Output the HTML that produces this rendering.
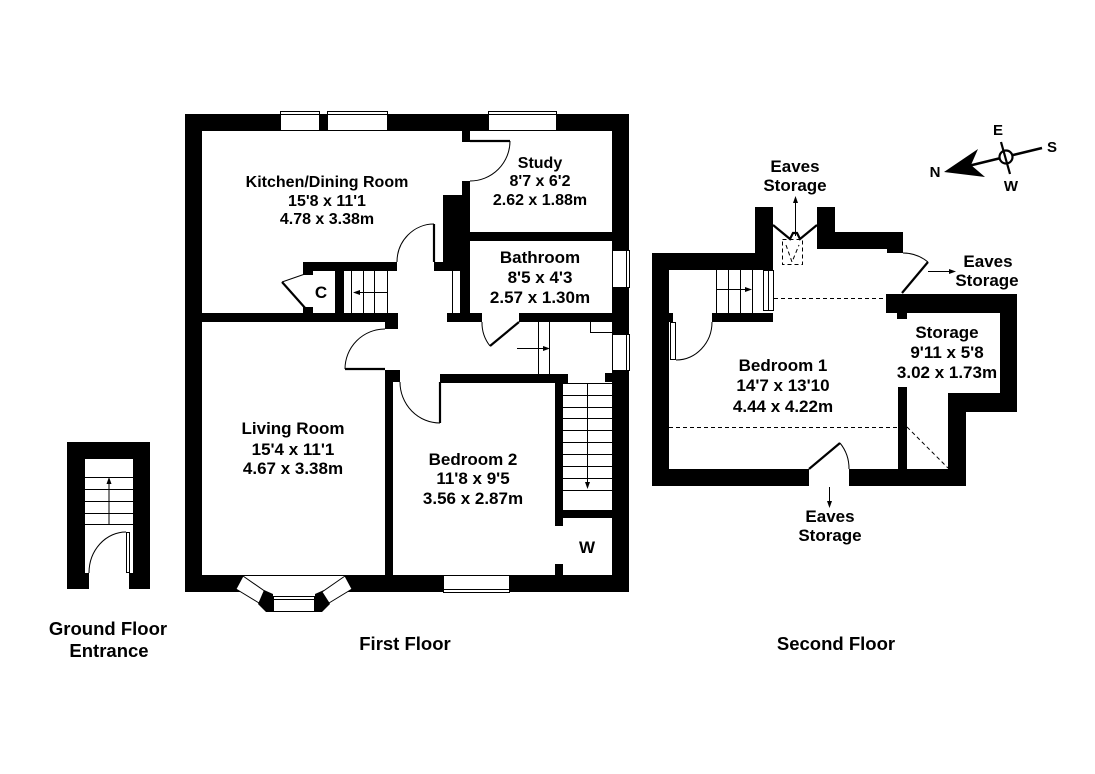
<!DOCTYPE html>
<html>
<head>
<meta charset="utf-8">
<style>
html,body{margin:0;padding:0;background:#fff;}
svg{display:block;}
text{font-family:"Liberation Sans",Arial,sans-serif;font-weight:bold;fill:#000;text-anchor:middle;}
.t16{font-size:16px;}
.t17{font-size:17px;}
.t18{font-size:18.5px;}
.t15{font-size:15px;}
</style>
</head>
<body>
<svg width="1095" height="774" viewBox="0 0 1095 774" xmlns="http://www.w3.org/2000/svg">
<rect x="0" y="0" width="1095" height="774" fill="#fff"/>

<!-- ================= GROUND FLOOR ENTRANCE ================= -->
<g fill="#000">
  <rect x="67" y="442" width="18" height="131"/>
  <rect x="67" y="442" width="83" height="17"/>
  <rect x="133" y="442" width="17" height="147"/>
  <rect x="67" y="573" width="22" height="16"/>
  <rect x="129" y="573" width="21" height="16"/>
</g>
<g stroke="#000" stroke-width="1" fill="none">
  <line x1="85" y1="477.5" x2="133" y2="477.5"/>
  <line x1="85" y1="489.5" x2="133" y2="489.5"/>
  <line x1="85" y1="501.5" x2="133" y2="501.5"/>
  <line x1="85" y1="513.5" x2="133" y2="513.5"/>
  <line x1="85" y1="524.5" x2="133" y2="524.5"/>
  <line x1="109" y1="524" x2="109" y2="482"/>
  <rect x="126.5" y="532.5" width="3" height="40" fill="#fff"/>
  <path d="M89,573 A37,41 0 0 1 126,532"/>
</g>
<polygon points="109,477 106.5,484 111.5,484" fill="#000"/>

<!-- ================= FIRST FLOOR ================= -->
<g fill="#000">
  <!-- outer walls -->
  <rect x="185" y="114" width="444" height="17"/>
  <rect x="185" y="114" width="17" height="478"/>
  <rect x="612" y="114" width="17" height="478"/>
  <rect x="185" y="575" width="58" height="17"/>
  <rect x="345" y="575" width="284" height="17"/>
  <!-- kitchen / living divider -->
  <rect x="185" y="313" width="213" height="9"/>
  <rect x="385" y="313" width="13" height="16"/>
  <!-- closet / stair block -->
  <rect x="303" y="262" width="94" height="9"/>
  <rect x="303" y="262" width="10" height="13"/>
  <rect x="303" y="307" width="10" height="6"/>
  <rect x="335" y="271" width="9" height="42"/>
  <!-- chimney / partitions -->
  <rect x="443" y="195" width="27" height="67"/>
  <rect x="462" y="130" width="8" height="12"/>
  <rect x="462" y="181" width="8" height="14"/>
  <rect x="434" y="262" width="36" height="9"/>
  <rect x="460" y="270" width="10" height="43"/>
  <!-- study / bathroom -->
  <rect x="443" y="232" width="169" height="9"/>
  <rect x="447" y="313" width="35" height="9"/>
  <rect x="519" y="313" width="93" height="9"/>
  <!-- hallway bottom / bedroom 2 -->
  <rect x="440" y="374" width="128" height="9"/>
  <rect x="605" y="373" width="7" height="9"/>
  <rect x="385" y="370" width="15" height="12"/>
  <rect x="385" y="382" width="8" height="193"/>
  <!-- stair / W -->
  <rect x="555" y="374" width="8" height="152"/>
  <rect x="555" y="510" width="57" height="8"/>
  <rect x="555" y="564" width="8" height="11"/>
</g>

<!-- windows first floor -->
<g fill="#fff" stroke="#000" stroke-width="1">
  <rect x="280.5" y="111.5" width="39" height="19"/>
  <rect x="327.5" y="111.5" width="60" height="19"/>
  <rect x="488.5" y="111.5" width="68" height="19"/>
  <rect x="612.5" y="250.5" width="17" height="37"/>
  <rect x="612.5" y="334.5" width="17" height="36"/>
  <rect x="443.5" y="575.5" width="66" height="17"/>
</g>
<g stroke="#000" stroke-width="1">
  <line x1="281" y1="114.5" x2="319" y2="114.5"/>
  <line x1="328" y1="114.5" x2="387" y2="114.5"/>
  <line x1="489" y1="114.5" x2="556" y2="114.5"/>
  <line x1="626.5" y1="251" x2="626.5" y2="287"/>
  <line x1="626.5" y1="335" x2="626.5" y2="370"/>
  <line x1="444" y1="589.5" x2="509" y2="589.5"/>
</g>

<!-- bay window -->
<line x1="243" y1="575.5" x2="345" y2="575.5" stroke="#000" stroke-width="1"/>
<polygon points="243,576 266,592 259,603 236,589" fill="#fff" stroke="#000" stroke-width="1"/>
<polygon points="264,590 273,594 273,612 266,612 258,604" fill="#000"/>
<rect x="273.5" y="596.5" width="41" height="15" fill="#fff" stroke="#000" stroke-width="1"/>
<line x1="274" y1="599.5" x2="314" y2="599.5" stroke="#000" stroke-width="1"/>
<polygon points="324,590 315,594 315,612 322,612 330,604" fill="#000"/>
<polygon points="345,576 322,592 329,603 352,589" fill="#fff" stroke="#000" stroke-width="1"/>

<!-- stairs & fittings first floor -->
<g stroke="#000" stroke-width="1" fill="none">
  <!-- kitchen stair -->
  <line x1="351.5" y1="271" x2="351.5" y2="313"/>
  <line x1="363.5" y1="271" x2="363.5" y2="313"/>
  <line x1="374.5" y1="271" x2="374.5" y2="313"/>
  <line x1="387.5" y1="271" x2="387.5" y2="313"/>
  <line x1="358" y1="292.5" x2="387" y2="292.5"/>
  <!-- cupboard lines -->
  <line x1="452.5" y1="271" x2="452.5" y2="313"/>
  <!-- landing -->
  <line x1="538.5" y1="322" x2="538.5" y2="374"/>
  <line x1="549.5" y1="322" x2="549.5" y2="374"/>
  <line x1="517" y1="348.5" x2="544" y2="348.5"/>
  <polyline points="590.5,322 590.5,332.5 612,332.5"/>
  <!-- main stair -->
  <line x1="563" y1="383.5" x2="612" y2="383.5"/>
  <line x1="563" y1="395.5" x2="612" y2="395.5"/>
  <line x1="563" y1="407.5" x2="612" y2="407.5"/>
  <line x1="563" y1="418.5" x2="612" y2="418.5"/>
  <line x1="563" y1="430.5" x2="612" y2="430.5"/>
  <line x1="563" y1="442.5" x2="612" y2="442.5"/>
  <line x1="563" y1="454.5" x2="612" y2="454.5"/>
  <line x1="563" y1="466.5" x2="612" y2="466.5"/>
  <line x1="563" y1="478.5" x2="612" y2="478.5"/>
  <line x1="563" y1="490.5" x2="612" y2="490.5"/>
  <line x1="587.5" y1="383" x2="587.5" y2="482"/>
  <!-- door arcs -->
  <path d="M305,274 L282,282"/>
  <path d="M397,262 A37,38 0 0 1 434,224"/>
  <path d="M510,141 A40,40 0 0 1 470,181"/>
  <path d="M345,369 A40,40 0 0 1 385,329"/>
  <path d="M400,382 A40,41 0 0 0 440,423"/>
  <path d="M490,346 A37.6,37.6 0 0 1 482,322"/>
</g>
<g stroke="#000" stroke-width="2.2" fill="none">
  <line x1="282" y1="282" x2="306" y2="309"/>
  <line x1="434" y1="224" x2="434" y2="262"/>
  <line x1="470" y1="141" x2="510" y2="141"/>
  <line x1="345" y1="369" x2="385" y2="369"/>
  <line x1="440" y1="382" x2="440" y2="423"/>
  <line x1="519" y1="322" x2="490" y2="346"/>
</g>
<g fill="#000">
  <polygon points="353,292.5 360,290 360,295"/>
  <polygon points="550,348.5 543,346 543,351"/>
  <polygon points="587.5,489 585,482 590,482"/>
</g>

<!-- first floor labels -->
<text class="t16" x="327" y="187">Kitchen/Dining Room</text>
<text class="t16" x="327" y="206">15'8 x 11'1</text>
<text class="t16" x="327" y="224">4.78 x 3.38m</text>
<text class="t16" x="540" y="168">Study</text>
<text class="t16" x="540" y="186">8'7 x 6'2</text>
<text class="t16" x="540" y="205">2.62 x 1.88m</text>
<text class="t17" x="540" y="263">Bathroom</text>
<text class="t17" x="540" y="283">8'5 x 4'3</text>
<text class="t17" x="540" y="303">2.57 x 1.30m</text>
<text class="t17" x="321" y="298">C</text>
<text class="t17" x="293" y="434">Living Room</text>
<text class="t17" x="293" y="455">15'4 x 11'1</text>
<text class="t17" x="293" y="474">4.67 x 3.38m</text>
<text class="t17" x="473" y="465">Bedroom 2</text>
<text class="t17" x="473" y="484">11'8 x 9'5</text>
<text class="t17" x="473" y="504">3.56 x 2.87m</text>
<text class="t17" x="587" y="553">W</text>

<!-- ================= SECOND FLOOR ================= -->
<g fill="#000">
  <rect x="652" y="253" width="17" height="233"/>
  <rect x="652" y="253" width="121" height="17"/>
  <rect x="755" y="207" width="18" height="63"/>
  <rect x="817" y="207" width="18" height="41"/>
  <rect x="817" y="232" width="86" height="17"/>
  <rect x="887" y="248" width="16" height="5"/>
  <rect x="886" y="294" width="131" height="19"/>
  <rect x="897" y="313" width="10" height="6"/>
  <rect x="1000" y="294" width="17" height="118"/>
  <rect x="948" y="393" width="69" height="19"/>
  <rect x="948" y="393" width="18" height="93"/>
  <rect x="849" y="469" width="117" height="17"/>
  <rect x="652" y="469" width="157" height="17"/>
  <rect x="898" y="387" width="9" height="82"/>
  <rect x="712" y="313" width="61" height="9"/>
  <rect x="652" y="313" width="21" height="9"/>
</g>
<g stroke="#000" stroke-width="1" fill="none">
  <!-- stair -->
  <line x1="716.5" y1="270" x2="716.5" y2="313"/>
  <line x1="728.5" y1="270" x2="728.5" y2="313"/>
  <line x1="740.5" y1="270" x2="740.5" y2="313"/>
  <line x1="752.5" y1="270" x2="752.5" y2="313"/>
  <line x1="716" y1="289.5" x2="746" y2="289.5"/>
  <rect x="763.5" y="270.5" width="10" height="40" fill="#fff"/>
  <line x1="768.5" y1="271" x2="768.5" y2="310"/>
  <!-- left door -->
  <rect x="670.5" y="322.5" width="5" height="37" fill="#fff"/>
  <path d="M676,360 A36,38 0 0 0 712,322"/>
  <!-- arcs -->
  <path d="M928,262 A40.5,40.5 0 0 0 903,253"/>
  <path d="M840,443 A40.5,40.5 0 0 1 849,469"/>
  <!-- arrows -->
  <line x1="795.5" y1="236" x2="795.5" y2="202"/>
  <line x1="928" y1="271.5" x2="949" y2="271.5"/>
  <line x1="829.5" y1="487" x2="829.5" y2="502"/>
</g>
<g fill="#000">
  <polygon points="752,289.5 745,287 745,292"/>
  <polygon points="795.5,196 793,203 798,203"/>
  <polygon points="956,271.5 949,269 949,274"/>
  <polygon points="829.5,508 827,501 832,501"/>
</g>
<g stroke="#000" stroke-width="2.2" fill="none">
  <polyline points="773,225 790,239 793,233 797,233 800,239 817,225"/>
  <line x1="902" y1="293" x2="928" y2="262"/>
  <line x1="809" y1="469" x2="840" y2="443"/>
</g>
<g stroke="#000" stroke-width="1" fill="none" stroke-dasharray="4,3">
  <rect x="782.5" y="239.5" width="20" height="25"/>
  <polyline points="786,245 792,262 799,245"/>
  <line x1="774" y1="298.5" x2="887" y2="298.5"/>
  <line x1="669" y1="427.5" x2="907" y2="427.5"/>
  <line x1="907" y1="427" x2="948" y2="468"/>
</g>

<!-- second floor labels -->
<text class="t17" x="783" y="371">Bedroom 1</text>
<text class="t17" x="783" y="391">14'7 x 13'10</text>
<text class="t17" x="783" y="412">4.44 x 4.22m</text>
<text class="t17" x="947" y="338">Storage</text>
<text class="t17" x="947" y="358">9'11 x 5'8</text>
<text class="t17" x="947" y="378">3.02 x 1.73m</text>
<text class="t17" x="795" y="172">Eaves</text>
<text class="t17" x="795" y="191">Storage</text>
<text class="t17" x="988" y="267">Eaves</text>
<text class="t17" x="987" y="286">Storage</text>
<text class="t17" x="830" y="522">Eaves</text>
<text class="t17" x="830" y="541">Storage</text>

<!-- floor labels -->
<text class="t18" x="108" y="635">Ground Floor</text>
<text class="t18" x="109" y="657">Entrance</text>
<text class="t18" x="405" y="650">First Floor</text>
<text class="t18" x="836" y="650">Second Floor</text>

<!-- compass -->
<g stroke="#000" fill="none">
  <line x1="960" y1="168" x2="1042" y2="148" stroke-width="2.5"/>
  <circle cx="1006" cy="157" r="6.5" stroke-width="2.2" fill="#fff"/>
  <line x1="1001" y1="142" x2="1010" y2="174" stroke-width="2.2"/>
</g>
<polygon points="944,172 978,149 971,165 985,177" fill="#000"/>
<text class="t15" x="998" y="135">E</text>
<text class="t15" x="1052" y="152">S</text>
<text class="t15" x="935" y="177">N</text>
<text class="t15" x="1011" y="191">W</text>
</svg>
</body>
</html>
